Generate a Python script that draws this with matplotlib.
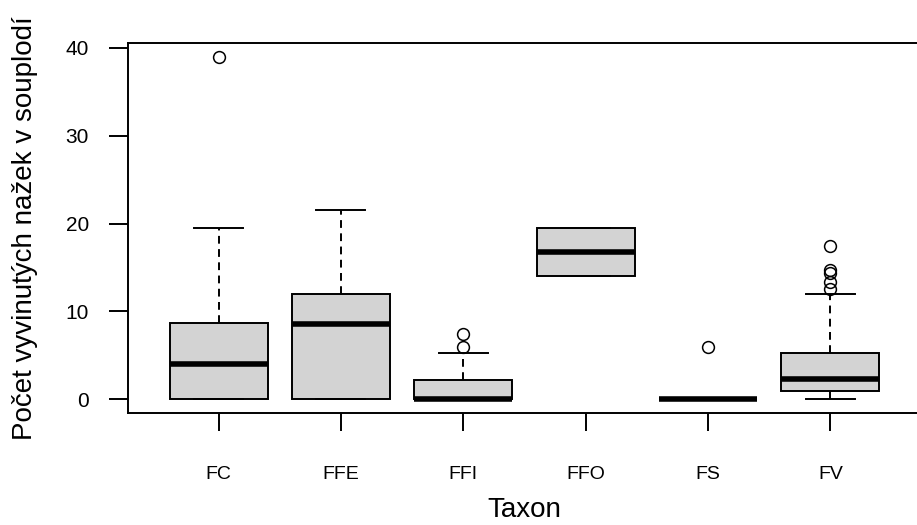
import matplotlib
matplotlib.use("Agg")
import matplotlib.pyplot as plt

plt.rcParams['font.family'] = ['Liberation Sans', 'DejaVu Sans']

# box statistics
taxa = ['FC', 'FFE', 'FFI', 'FFO', 'FS', 'FV']
q1 = [0, 0, 0, 14, 0, 1]
med = [4, 8.6, 0, 16.8, 0, 2.3]
q3 = [8.7, 12, 2.2, 19.5, 0, 5.3]
whislo = [0, 0, 0, 14, 0, 0]
whishi = [19.5, 21.5, 5.3, 19.5, 0, 12]
fliers = [[39], [], [6, 7.4], [], [6], [12.6, 13.4, 14.4, 14.7, 17.4]]

stats = []
for i, name in enumerate(taxa):
    stats.append(dict(label=name, q1=q1[i], med=med[i], q3=q3[i],
                      whislo=whislo[i], whishi=whishi[i], fliers=fliers[i]))

fig = plt.figure(figsize=(9.17, 5.25), dpi=100)
# right edge of the frame is cropped in the reference
ax = fig.add_axes([128 / 917, 1 - 413 / 525, 793 / 917, 370 / 525])

ax.bxp(stats, positions=range(1, 7), widths=0.8, capwidths=0.4,
       patch_artist=True, showfliers=True,
       boxprops=dict(facecolor='#d3d3d3', edgecolor='black', linewidth=1.4),
       medianprops=dict(color='black', linewidth=4.0, solid_capstyle='butt'),
       whiskerprops=dict(color='black', linewidth=1.4, linestyle=(0, (4, 2.8))),
       capprops=dict(color='black', linewidth=1.4),
       flierprops=dict(marker='o', markerfacecolor='none', markeredgecolor='black',
                       markersize=8.5, markeredgewidth=1.1))

ax.set_xlim(0.26, 6.74)
ax.set_ylim(-1.56, 40.56)
ax.set_yticks([0, 10, 20, 30, 40])
ax.set_yticklabels(['0', '10', '20', '30', '40'], fontsize=15)
ax.set_xticks(range(1, 7))
ax.set_xticklabels(taxa, fontsize=14)
ax.tick_params(axis='y', length=14, width=1.4, pad=14)
ax.tick_params(axis='x', length=13, width=1.4, pad=25)
for s in ax.spines.values():
    s.set_linewidth(1.4)

ax.set_xlabel('Taxon', fontsize=20)
ax.xaxis.set_label_coords(0.5, -0.228)
ax.set_ylabel('Počet vyvinutých nažek v souplodí', fontsize=20)
ax.yaxis.set_label_coords(-0.114, 0.5)

fig.savefig('out.png', dpi=100)
